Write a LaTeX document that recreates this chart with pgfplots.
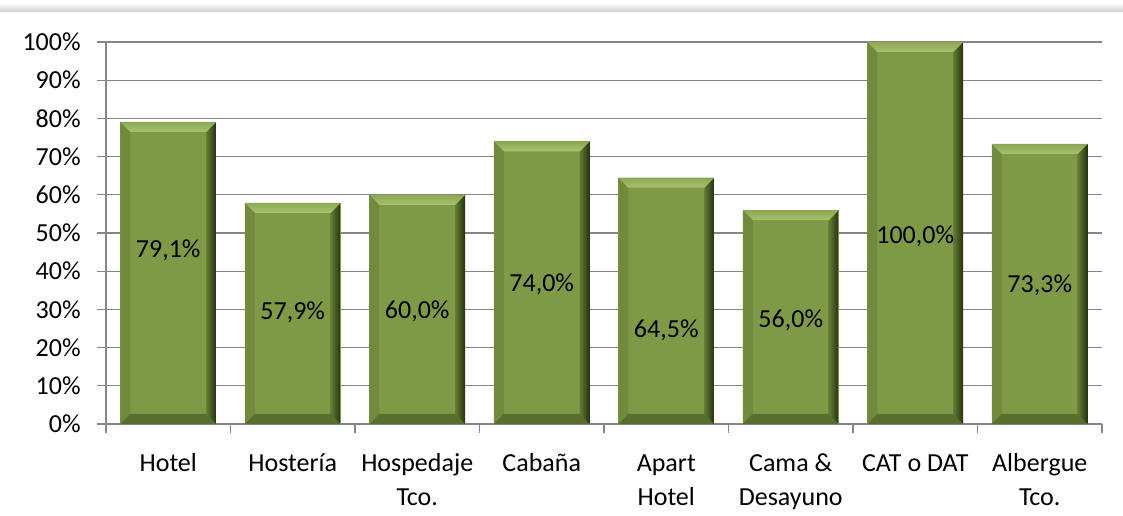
\documentclass[border=0pt]{standalone}
\usepackage{pgfplots}
\pgfplotsset{compat=1.18}
\usepackage{fontspec}
\setmainfont{Carlito}
\definecolor{barmain}{RGB}{127,154,71}
\definecolor{barlight}{RGB}{168,194,112}
\definecolor{bartop}{RGB}{140,168,82}
\definecolor{barleft}{RGB}{113,138,61}
\definecolor{barbottom}{RGB}{88,110,44}
\definecolor{barmid}{RGB}{100,124,52}
\definecolor{bardark}{RGB}{36,48,16}
\definecolor{gridgray}{RGB}{134,134,134}
\pgfdeclarehorizontalshading{rightbevel}{100bp}{color(0bp)=(barmid); color(25bp)=(barmid); color(75bp)=(bardark); color(100bp)=(bardark)}
\pgfdeclareverticalshading{topbevel}{100bp}{color(0bp)=(barlight); color(25bp)=(barlight); color(75bp)=(bartop); color(100bp)=(bartop)}
\newcommand\ppa[1]{\pgfpointanchor{path picture bounding box}{#1}}
\newcommand\ppo[3]{\pgfpointadd{\ppa{#1}}{\pgfpoint{#2}{#3}}}
\newcommand\bevel{%
  \pgfpathmoveto{\ppa{north west}}\pgfpathlineto{\ppo{north west}{7.5pt}{-7.5pt}}%
  \pgfpathlineto{\ppo{south west}{7.5pt}{7.5pt}}\pgfpathlineto{\ppa{south west}}\pgfpathclose
  \pgfsetfillcolor{barleft}\pgfusepath{fill}%
  \pgfpathmoveto{\ppa{south west}}\pgfpathlineto{\ppo{south west}{7.5pt}{7.5pt}}%
  \pgfpathlineto{\ppo{south east}{-7.5pt}{7.5pt}}\pgfpathlineto{\ppa{south east}}\pgfpathclose
  \pgfsetfillcolor{barbottom}\pgfusepath{fill}%
  \pgfpathmoveto{\ppa{north east}}\pgfpathlineto{\ppo{north east}{-7.5pt}{-7.5pt}}%
  \pgfpathlineto{\ppo{south east}{-7.5pt}{7.5pt}}\pgfpathlineto{\ppa{south east}}\pgfpathclose
  \pgfshadepath{rightbevel}{0}\pgfusepath{}%
  \pgfpathmoveto{\ppa{north west}}\pgfpathlineto{\ppa{north east}}%
  \pgfpathlineto{\ppo{north east}{-7.5pt}{-7.5pt}}\pgfpathlineto{\ppo{north west}{7.5pt}{-7.5pt}}\pgfpathclose
  \pgfshadepath{topbevel}{0}\pgfusepath{}%
}
\tikzset{vlab/.style={font=\fontsize{19.5}{23}\selectfont}}
\pgfplotsset{bevelbar/.style={ybar, bar width=0.77, bar shift=0, fill=barmain, draw=none, path picture={\bevel}}}
\begin{document}
\begin{tikzpicture}[x=1pt,y=1pt]
\path[use as bounding box] (0,0) rectangle (842.25,387);
\shade[top color=gray!8, bottom color=gray!38] (0,383.25) rectangle (842.25,378);
\begin{axis}[
  at={(79.5pt,69pt)}, anchor=south west,
  scale only axis, width=747pt, height=286.5pt,
  xmin=-0.5, xmax=7.5, ymin=0, ymax=100,
  axis x line*=bottom, axis y line*=left,
  axis line style={draw=gridgray, line width=1pt},
  ymajorgrids, grid style={draw=gridgray, line width=1pt},
  tick align=outside, major tick length=6.5pt,
  tick style={draw=gridgray, line width=1pt},
  xtick={-0.5,0.5,...,7.5},
  x tick label as interval=true,
  xticklabels={{\strut Hotel}, {\strut Hostería}, {\strut Hospedaje\\Tco.}, {\strut Cabaña}, {\strut Apart\\Hotel}, {\strut Cama \&\\Desayuno}, {\strut CAT o DAT}, {\strut Albergue\\Tco.}},
  xticklabel style={align=center, font=\fontsize{19.5}{25.5}\selectfont, yshift=-8pt, anchor=north},
  ytick={0,10,...,100},
  yticklabels={0\%,10\%,20\%,30\%,40\%,50\%,60\%,70\%,80\%,90\%,100\%},
  yticklabel style={font=\fontsize{19.5}{23}\selectfont, xshift=-9pt},
  clip=false,
]
\addplot[bevelbar] coordinates {(0,79.1)};
\addplot[bevelbar] coordinates {(1,57.9)};
\addplot[bevelbar] coordinates {(2,60.0)};
\addplot[bevelbar] coordinates {(3,74.0)};
\addplot[bevelbar] coordinates {(4,64.5)};
\addplot[bevelbar] coordinates {(5,56.0)};
\addplot[bevelbar] coordinates {(6,100.0)};
\addplot[bevelbar] coordinates {(7,73.3)};
\node[vlab] at (axis cs:0,45.5) {79,1\%};
\node[vlab] at (axis cs:1,29.3) {57,9\%};
\node[vlab] at (axis cs:2,29.6) {60,0\%};
\node[vlab] at (axis cs:3,36.6) {74,0\%};
\node[vlab] at (axis cs:4,24.6) {64,5\%};
\node[vlab] at (axis cs:5,27.2) {56,0\%};
\node[vlab] at (axis cs:6,49.2) {100,0\%};
\node[vlab] at (axis cs:7,36.4) {73,3\%};
\end{axis}
\end{tikzpicture}
\end{document}
